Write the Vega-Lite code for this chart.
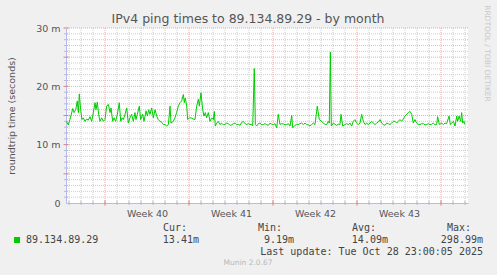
{
"$schema": "https://vega.github.io/schema/vega-lite/v6.json",
"width": 402, "height": 175,
"autosize": {"type": "none"},
"padding": {"left": 66, "top": 28, "right": 29, "bottom": 72},
"background": "#f0f0f0",
"config": {"view": {"fill": "white", "stroke": null}, "font": "DejaVu Sans"},
"datasets": {
"ping": [
{"day":-3.22,"rtt":14.0},{"day":-3.06,"rtt":13.4},{"day":-2.92,"rtt":14.3},{"day":-2.69,"rtt":16.2},{"day":-2.58,"rtt":15.5},{"day":-2.44,"rtt":16.0},{"day":-2.31,"rtt":17.5},{"day":-2.22,"rtt":15.5},{"day":-2.14,"rtt":18.7},{"day":-2.03,"rtt":16.0},{"day":-1.92,"rtt":14.3},{"day":-1.81,"rtt":14.6},{"day":-1.67,"rtt":14.0},{"day":-1.53,"rtt":14.4},{"day":-1.39,"rtt":14.2},{"day":-1.25,"rtt":14.8},{"day":-1.11,"rtt":14.0},{"day":-0.97,"rtt":15.5},{"day":-0.83,"rtt":17.2},{"day":-0.75,"rtt":16.0},{"day":-0.64,"rtt":17.3},{"day":-0.53,"rtt":15.2},{"day":-0.42,"rtt":14.0},{"day":-0.28,"rtt":14.6},{"day":-0.14,"rtt":14.0},{"day":0.0,"rtt":14.3},{"day":0.14,"rtt":16.6},{"day":0.28,"rtt":16.9},{"day":0.42,"rtt":15.5},{"day":0.5,"rtt":16.3},{"day":0.64,"rtt":14.0},{"day":0.75,"rtt":14.6},{"day":0.89,"rtt":14.0},{"day":1.03,"rtt":15.2},{"day":1.19,"rtt":17.2},{"day":1.31,"rtt":14.0},{"day":1.42,"rtt":14.6},{"day":1.53,"rtt":14.3},{"day":1.67,"rtt":15.2},{"day":1.81,"rtt":16.3},{"day":1.94,"rtt":13.7},{"day":2.08,"rtt":14.6},{"day":2.22,"rtt":15.2},{"day":2.36,"rtt":14.0},{"day":2.5,"rtt":15.5},{"day":2.58,"rtt":14.3},{"day":2.69,"rtt":15.2},{"day":2.86,"rtt":16.6},{"day":2.97,"rtt":14.3},{"day":3.14,"rtt":15.2},{"day":3.25,"rtt":14.0},{"day":3.42,"rtt":15.8},{"day":3.53,"rtt":14.9},{"day":3.64,"rtt":16.0},{"day":3.75,"rtt":15.2},{"day":3.89,"rtt":16.3},{"day":4.03,"rtt":14.6},{"day":4.17,"rtt":16.0},{"day":4.31,"rtt":14.9},{"day":4.44,"rtt":14.3},{"day":4.58,"rtt":14.0},{"day":4.72,"rtt":13.85},{"day":4.86,"rtt":13.45},{"day":5.0,"rtt":13.45},{"day":5.14,"rtt":13.2},{"day":5.28,"rtt":13.45},{"day":5.42,"rtt":16.6},{"day":5.5,"rtt":13.7},{"day":5.69,"rtt":14.0},{"day":5.83,"rtt":14.6},{"day":5.97,"rtt":15.5},{"day":6.11,"rtt":16.6},{"day":6.25,"rtt":17.2},{"day":6.39,"rtt":17.5},{"day":6.53,"rtt":18.6},{"day":6.61,"rtt":17.2},{"day":6.69,"rtt":18.0},{"day":6.81,"rtt":16.6},{"day":6.89,"rtt":14.3},{"day":7.03,"rtt":14.6},{"day":7.17,"rtt":14.6},{"day":7.36,"rtt":14.4},{"day":7.5,"rtt":14.3},{"day":7.64,"rtt":16.6},{"day":7.78,"rtt":17.8},{"day":7.86,"rtt":16.6},{"day":8.0,"rtt":18.9},{"day":8.14,"rtt":16.0},{"day":8.25,"rtt":14.9},{"day":8.36,"rtt":15.5},{"day":8.47,"rtt":14.6},{"day":8.61,"rtt":15.5},{"day":8.75,"rtt":14.0},{"day":8.89,"rtt":14.6},{"day":9.03,"rtt":14.3},{"day":9.11,"rtt":15.7},{"day":9.19,"rtt":13.2},{"day":9.31,"rtt":13.7},{"day":9.44,"rtt":14.0},{"day":9.58,"rtt":13.45},{"day":9.72,"rtt":13.7},{"day":9.86,"rtt":13.4},{"day":10.0,"rtt":13.5},{"day":10.14,"rtt":13.7},{"day":10.28,"rtt":13.6},{"day":10.42,"rtt":13.3},{"day":10.56,"rtt":13.4},{"day":10.69,"rtt":13.6},{"day":10.83,"rtt":13.7},{"day":10.97,"rtt":13.4},{"day":11.11,"rtt":13.5},{"day":11.25,"rtt":13.3},{"day":11.39,"rtt":13.8},{"day":11.53,"rtt":14.0},{"day":11.67,"rtt":13.6},{"day":11.81,"rtt":13.45},{"day":11.94,"rtt":13.6},{"day":12.08,"rtt":13.45},{"day":12.2,"rtt":13.5},{"day":12.31,"rtt":13.2},{"day":12.44,"rtt":23.05},{"day":12.53,"rtt":13.45},{"day":12.64,"rtt":13.2},{"day":12.78,"rtt":13.6},{"day":12.92,"rtt":13.7},{"day":13.06,"rtt":13.4},{"day":13.19,"rtt":13.45},{"day":13.33,"rtt":13.6},{"day":13.47,"rtt":13.45},{"day":13.61,"rtt":13.3},{"day":13.75,"rtt":13.7},{"day":13.89,"rtt":13.5},{"day":14.03,"rtt":13.45},{"day":14.17,"rtt":13.6},{"day":14.31,"rtt":12.9},{"day":14.44,"rtt":15.2},{"day":14.58,"rtt":13.45},{"day":14.72,"rtt":13.6},{"day":14.86,"rtt":13.56},{"day":15.0,"rtt":13.4},{"day":15.14,"rtt":13.45},{"day":15.28,"rtt":13.6},{"day":15.42,"rtt":13.2},{"day":15.56,"rtt":15.0},{"day":15.64,"rtt":12.9},{"day":15.83,"rtt":13.3},{"day":15.97,"rtt":13.5},{"day":16.11,"rtt":13.45},{"day":16.25,"rtt":13.6},{"day":16.39,"rtt":13.7},{"day":16.53,"rtt":13.45},{"day":16.67,"rtt":13.7},{"day":16.81,"rtt":13.45},{"day":16.94,"rtt":13.4},{"day":17.08,"rtt":13.2},{"day":17.22,"rtt":13.45},{"day":17.36,"rtt":13.7},{"day":17.5,"rtt":13.45},{"day":17.69,"rtt":16.6},{"day":17.86,"rtt":14.3},{"day":18.06,"rtt":14.0},{"day":18.19,"rtt":13.7},{"day":18.33,"rtt":13.5},{"day":18.47,"rtt":13.45},{"day":18.61,"rtt":14.0},{"day":18.69,"rtt":13.7},{"day":18.78,"rtt":25.9},{"day":18.86,"rtt":13.2},{"day":19.03,"rtt":13.7},{"day":19.17,"rtt":13.5},{"day":19.31,"rtt":13.3},{"day":19.44,"rtt":13.5},{"day":19.58,"rtt":13.45},{"day":19.67,"rtt":15.2},{"day":19.81,"rtt":13.2},{"day":20.0,"rtt":13.45},{"day":20.14,"rtt":13.6},{"day":20.28,"rtt":13.45},{"day":20.42,"rtt":13.7},{"day":20.56,"rtt":13.2},{"day":20.69,"rtt":14.0},{"day":20.83,"rtt":14.3},{"day":20.97,"rtt":13.7},{"day":21.11,"rtt":13.45},{"day":21.25,"rtt":13.7},{"day":21.39,"rtt":15.2},{"day":21.53,"rtt":14.0},{"day":21.67,"rtt":13.45},{"day":21.81,"rtt":13.7},{"day":21.94,"rtt":13.45},{"day":22.08,"rtt":13.7},{"day":22.22,"rtt":14.0},{"day":22.36,"rtt":13.7},{"day":22.5,"rtt":13.45},{"day":22.64,"rtt":13.7},{"day":22.78,"rtt":13.9},{"day":22.92,"rtt":14.3},{"day":23.06,"rtt":13.7},{"day":23.19,"rtt":13.45},{"day":23.33,"rtt":13.3},{"day":23.47,"rtt":13.7},{"day":23.61,"rtt":13.6},{"day":23.75,"rtt":13.45},{"day":23.89,"rtt":13.7},{"day":24.03,"rtt":14.0},{"day":24.17,"rtt":14.0},{"day":24.31,"rtt":13.7},{"day":24.44,"rtt":14.0},{"day":24.58,"rtt":14.3},{"day":24.72,"rtt":14.0},{"day":24.86,"rtt":14.4},{"day":25.0,"rtt":14.9},{"day":25.14,"rtt":15.2},{"day":25.28,"rtt":15.5},{"day":25.42,"rtt":15.7},{"day":25.56,"rtt":15.2},{"day":25.69,"rtt":13.7},{"day":25.83,"rtt":14.3},{"day":25.97,"rtt":13.7},{"day":26.11,"rtt":13.45},{"day":26.25,"rtt":13.45},{"day":26.39,"rtt":13.6},{"day":26.53,"rtt":13.6},{"day":26.67,"rtt":13.4},{"day":26.81,"rtt":13.45},{"day":26.94,"rtt":13.6},{"day":27.08,"rtt":13.45},{"day":27.22,"rtt":13.5},{"day":27.36,"rtt":13.7},{"day":27.5,"rtt":13.4},{"day":27.64,"rtt":13.45},{"day":27.72,"rtt":14.8},{"day":27.86,"rtt":13.45},{"day":28.06,"rtt":13.7},{"day":28.19,"rtt":13.45},{"day":28.33,"rtt":13.7},{"day":28.47,"rtt":13.6},{"day":28.67,"rtt":14.9},{"day":28.78,"rtt":13.45},{"day":28.89,"rtt":13.7},{"day":29.03,"rtt":14.0},{"day":29.17,"rtt":13.2},{"day":29.31,"rtt":14.9},{"day":29.39,"rtt":14.0},{"day":29.5,"rtt":14.9},{"day":29.64,"rtt":14.0},{"day":29.72,"rtt":15.5},{"day":29.81,"rtt":13.7},{"day":29.92,"rtt":14.0},{"day":30.0,"rtt":13.45}
],
"days_minor": [{"day":-3},{"day":-2},{"day":-1},{"day":1},{"day":2},{"day":3},{"day":4},{"day":5},{"day":6},{"day":8},{"day":9},{"day":10},{"day":11},{"day":12},{"day":13},{"day":15},{"day":16},{"day":17},{"day":18},{"day":19},{"day":20},{"day":22},{"day":23},{"day":24},{"day":25},{"day":26},{"day":27},{"day":29},{"day":30}],
"days_major": [{"day":0},{"day":7},{"day":14},{"day":21},{"day":28}],
"ms_minor": [{"ms":1},{"ms":2},{"ms":3},{"ms":4},{"ms":6},{"ms":7},{"ms":8},{"ms":9},{"ms":11},{"ms":12},{"ms":13},{"ms":14},{"ms":16},{"ms":17},{"ms":18},{"ms":19},{"ms":21},{"ms":22},{"ms":23},{"ms":24},{"ms":26},{"ms":27},{"ms":28},{"ms":29}],
"ms_major": [{"ms":5},{"ms":10},{"ms":15},{"ms":20},{"ms":25},{"ms":30}],
"legend": [{"title":"IPv4 ping times to 89.134.89.29 - by month","series":"89.134.89.29","cur":"13.41m","min":"9.19m","avg":"14.09m","max":"298.99m","updated":"Last update: Tue Oct 28 23:00:05 2025"}]
},
"layer": [
{"data":{"name":"days_minor"},"mark":{"type":"rule","color":"#cccccc","strokeDash":[1,1],"strokeWidth":1},"encoding":{"x":{"field":"day","type":"quantitative"}}},
{"data":{"name":"ms_minor"},"mark":{"type":"rule","color":"#cccccc","strokeDash":[1,1],"strokeWidth":1},"encoding":{"y":{"field":"ms","type":"quantitative"}}},
{"data":{"name":"days_major"},"mark":{"type":"rule","color":"#e6aaaa","strokeDash":[1,1],"strokeWidth":1},"encoding":{"x":{"field":"day","type":"quantitative"}}},
{"data":{"name":"ms_major"},"mark":{"type":"rule","color":"#e6aaaa","strokeDash":[1,1],"strokeWidth":1},"encoding":{"y":{"field":"ms","type":"quantitative"}}},
{"data":{"name":"ms_minor"},"mark":{"type":"rule","color":"#b8b8d8","strokeWidth":1},"encoding":{"y":{"field":"ms","type":"quantitative"},"x":{"datum":-3.42},"x2":{"datum":-3.08}}},
{"data":{"name":"ms_major"},"mark":{"type":"rule","color":"#d88080","strokeWidth":1},"encoding":{"y":{"field":"ms","type":"quantitative"},"x":{"datum":-3.46},"x2":{"datum":-3.04}}},
{"data":{"name":"days_minor"},"mark":{"type":"rule","color":"#b8b8d8","strokeWidth":1},"encoding":{"x":{"field":"day","type":"quantitative"},"y":{"datum":-0.35},"y2":{"datum":0.35}}},
{"data":{"name":"days_major"},"mark":{"type":"rule","color":"#d88080","strokeWidth":1},"encoding":{"x":{"field":"day","type":"quantitative"},"y":{"datum":-0.45},"y2":{"datum":0.45}}},
{"data":{"name":"ping"},"mark":{"type":"line","color":"#00cc00","strokeWidth":1,"interpolate":"linear"},
 "encoding":{
  "x":{"field":"day","type":"quantitative","scale":{"domain":[-3.25,30.25],"nice":false,"zero":false},
       "axis":{"values":[3.5,10.5,17.5,24.5],"labelExpr":"'Week ' + (40 + floor(datum.value / 7))","ticks":false,"grid":false,"title":null,"domainColor":"#b8b8f0","labelFont":"DejaVu Sans","labelFontSize":9.5,"labelColor":"#555555","labelPadding":5}},
  "y":{"field":"rtt","type":"quantitative","scale":{"domain":[0,30],"nice":false},
       "axis":{"values":[0,5,10,15,20,25,30],"labelExpr":"datum.value == 0 ? '0\u00a0\u00a0' : datum.value + ' m'","ticks":false,"grid":false,"title":"roundtrip time (seconds)","titleFont":"DejaVu Sans","titleFontSize":9.5,"titleFontWeight":"normal","titleColor":"#555555","titlePadding":19,"domainColor":"#b8b8f0","labelFont":"DejaVu Sans","labelFontSize":9.5,"labelColor":"#555555","labelPadding":6}}
 }},
{"mark":{"type":"point","shape":"triangle-up","filled":true,"color":"#a0a0f0","size":18,"opacity":1},"encoding":{"x":{"datum":-3.25},"y":{"datum":30.9}}},
{"mark":{"type":"point","shape":"triangle-right","filled":true,"color":"#a0a0f0","size":18,"opacity":1},"encoding":{"x":{"datum":30.45},"y":{"datum":0}}},
{"data":{"name":"legend"},"mark":{"type":"text","font":"DejaVu Sans","fontSize":12.5,"color":"#555555","align":"center","baseline":"middle"},"encoding":{"x":{"datum":11.92},"y":{"datum":31.54},"text":{"field":"title"}}},
{"data":{"name":"legend"},"mark":{"type":"square","color":"#00cc00","size":36,"opacity":1},"encoding":{"x":{"datum":-7.33},"y":{"datum":-6.34}}},
{"data":{"name":"legend"},"mark":{"type":"text","font":"DejaVu Sans Mono","fontSize":10,"color":"#444444","align":"left","baseline":"middle"},"encoding":{"x":{"datum":-6.58},"y":{"datum":-6.34},"text":{"field":"series"}}},
{"data":{"name":"legend"},"mark":{"type":"text","font":"DejaVu Sans Mono","fontSize":10,"color":"#444444","align":"left","baseline":"middle","text":"Cur:"},"encoding":{"x":{"datum":4.83},"y":{"datum":-4.29}}},
{"data":{"name":"legend"},"mark":{"type":"text","font":"DejaVu Sans Mono","fontSize":10,"color":"#444444","align":"left","baseline":"middle","text":"Min:"},"encoding":{"x":{"datum":12.75},"y":{"datum":-4.29}}},
{"data":{"name":"legend"},"mark":{"type":"text","font":"DejaVu Sans Mono","fontSize":10,"color":"#444444","align":"left","baseline":"middle","text":"Avg:"},"encoding":{"x":{"datum":20.58},"y":{"datum":-4.29}}},
{"data":{"name":"legend"},"mark":{"type":"text","font":"DejaVu Sans Mono","fontSize":10,"color":"#444444","align":"left","baseline":"middle","text":"Max:"},"encoding":{"x":{"datum":28.5},"y":{"datum":-4.29}}},
{"data":{"name":"legend"},"mark":{"type":"text","font":"DejaVu Sans Mono","fontSize":10,"color":"#444444","align":"right","baseline":"middle"},"encoding":{"x":{"datum":7.83},"y":{"datum":-6.34},"text":{"field":"cur"}}},
{"data":{"name":"legend"},"mark":{"type":"text","font":"DejaVu Sans Mono","fontSize":10,"color":"#444444","align":"right","baseline":"middle"},"encoding":{"x":{"datum":15.75},"y":{"datum":-6.34},"text":{"field":"min"}}},
{"data":{"name":"legend"},"mark":{"type":"text","font":"DejaVu Sans Mono","fontSize":10,"color":"#444444","align":"right","baseline":"middle"},"encoding":{"x":{"datum":23.58},"y":{"datum":-6.34},"text":{"field":"avg"}}},
{"data":{"name":"legend"},"mark":{"type":"text","font":"DejaVu Sans Mono","fontSize":10,"color":"#444444","align":"right","baseline":"middle"},"encoding":{"x":{"datum":31.5},"y":{"datum":-6.34},"text":{"field":"max"}}},
{"data":{"name":"legend"},"mark":{"type":"text","font":"DejaVu Sans Mono","fontSize":10,"color":"#444444","align":"right","baseline":"middle"},"encoding":{"x":{"datum":31.5},"y":{"datum":-8.4},"text":{"field":"updated"}}},
{"data":{"name":"legend"},"mark":{"type":"text","font":"DejaVu Sans","fontSize":7.5,"color":"#b8b8b8","align":"center","baseline":"middle","text":"Munin 2.0.67"},"encoding":{"x":{"datum":11.92},"y":{"datum":-10.29}}},
{"data":{"name":"legend"},"mark":{"type":"text","font":"DejaVu Sans","fontSize":7.5,"color":"#c8c8c8","align":"center","baseline":"middle","angle":90,"text":"RRDTOOL / TOBI OETIKER"},"encoding":{"x":{"datum":31.83},"y":{"datum":25.63}}}
]
}
